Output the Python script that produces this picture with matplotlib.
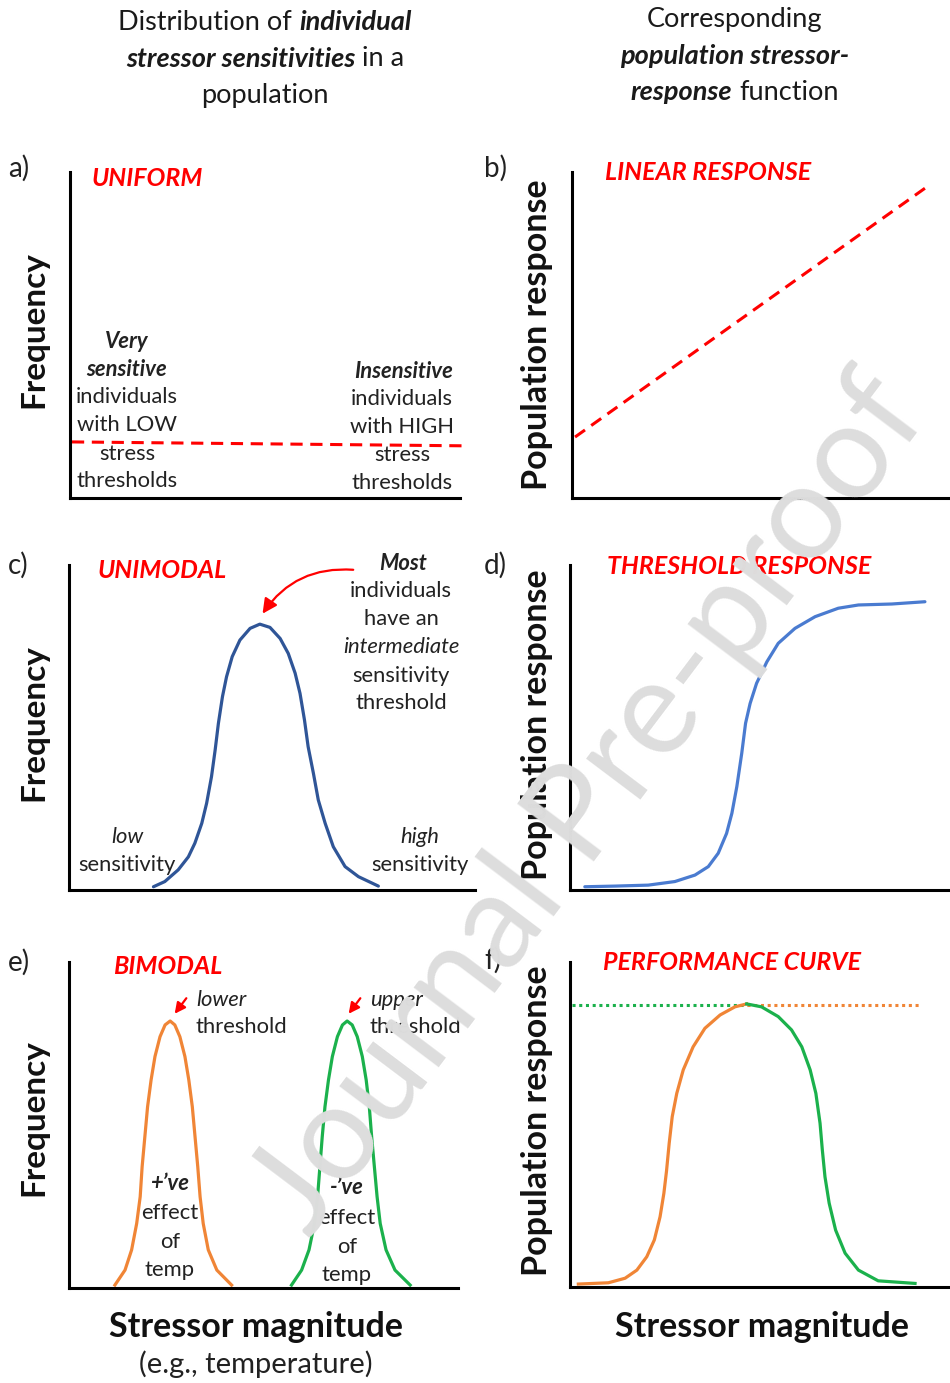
import matplotlib
matplotlib.use("Agg")
import matplotlib.pyplot as plt
from matplotlib.patches import FancyArrowPatch
from matplotlib.transforms import Affine2D

FONT = ["Lato", "DejaVu Sans"]
plt.rcParams["font.family"] = FONT

W, H = 950, 1383

# ---- data (axes units 0-100) ----
uniform_x = [0.5, 101.5]
uniform_y = [17.2, 16.0]

linear_x = [0.8, 94.2]
linear_y = [18.7, 95.7]

unimodal_x = [20.8, 23.6, 26.9, 29.4, 31.0, 32.7, 33.9, 35.1, 36.0, 36.8, 37.8, 38.8, 40.2, 42.1, 44.6,
              47.0, 49.5, 52.0, 54.0, 55.7, 56.9, 58.0, 58.9, 60.2, 61.4, 63.1, 65.1, 68.0, 71.3, 76.2]
unimodal_y = [1.0, 2.6, 6.2, 10.2, 14.4, 20.5, 26.7, 34.9, 43.1, 51.3, 59.5, 65.6, 71.8, 76.9, 80.5,
              81.8, 80.8, 77.4, 72.8, 66.7, 60.5, 52.3, 44.1, 35.9, 27.7, 20.5, 13.3, 7.2, 4.1, 1.2]

threshold_x = [3.9, 11.8, 20.6, 27.6, 32.9, 36.4, 39.0, 41.2, 42.6, 43.9, 45.2, 46.2, 47.4, 49.1, 51.8,
               54.8, 59.2, 64.5, 70.6, 75.9, 84.7, 93.4]
threshold_y = [1.0, 1.2, 1.5, 2.6, 4.6, 7.2, 11.3, 17.4, 23.6, 31.8, 42.1, 51.3, 57.4, 63.6, 70.2,
               75.9, 80.5, 84.1, 86.7, 87.7, 88.0, 88.7]

bimodal_low_x = [11.8, 14.4, 16.1, 17.4, 18.3, 18.8, 19.5, 20.2, 21.1, 22.1, 23.4, 24.7, 26.0,
                 27.2, 28.5, 29.8, 30.8, 31.7, 32.4, 33.1, 33.7, 34.5, 35.8, 38.0, 41.8]
bimodal_high_x = [57.2, 59.8, 61.7, 63.1, 63.9, 64.5, 65.1, 65.8, 66.7, 67.7, 69.0, 70.3, 71.5,
                  72.8, 74.1, 75.4, 76.4, 77.2, 77.8, 78.5, 79.2, 80.0, 81.5, 83.8, 87.7]
bimodal_y = [0.9, 5.5, 11.7, 19.8, 28.0, 37.2, 46.4, 55.6, 63.8, 71.0, 77.1, 80.7, 81.9,
             80.7, 77.1, 71.0, 63.8, 55.6, 46.4, 37.2, 28.0, 19.8, 11.7, 5.5, 0.9]

perf_rise_x = [2.2, 10.1, 14.5, 17.6, 20.2, 22.2, 23.7, 24.7, 25.4, 26.1, 26.9, 28.1, 29.8, 32.4,
               35.5, 39.5, 43.4, 46.5]
perf_rise_y = [0.9, 1.3, 2.7, 5.2, 9.3, 14.5, 21.6, 28.8, 35.7, 44.2, 52.4, 59.6, 66.8, 73.9,
               79.6, 83.7, 86.2, 87.1]
perf_fall_x = [46.5, 50.4, 54.8, 58.3, 61.0, 63.2, 64.7, 65.8, 66.4, 67.1, 68.2, 69.9, 72.4, 75.9,
               81.1, 90.8]
perf_fall_y = [87.1, 86.2, 83.2, 79.1, 73.9, 66.8, 59.6, 50.4, 42.2, 33.9, 25.8, 17.5, 10.4, 5.2,
               1.9, 1.1]
optimum_y = 86.8
optimum_left = [0.5, 46.5]
optimum_right = [46.5, 92.1]

RED = "#ff0000"
ORANGE = "#f08536"
GREEN = "#1bb14c"
DARK_BLUE = "#2f5597"
BLUE = "#4a7bd0"

fig = plt.figure(figsize=(W / 100, H / 100), dpi=100)
pix = Affine2D().scale(1.0 / W, -1.0 / H).translate(0, 1) + fig.transFigure


def panel(x0, y0, x1, y1):
    """axes whose left/bottom spines sit on the given pixel box"""
    ax = fig.add_axes([x0 / W, 1 - y1 / H, (x1 - x0) / W, (y1 - y0) / H])
    ax.set_xlim(0, 100)
    ax.set_ylim(0, 100)
    for s in ["top", "right"]:
        ax.spines[s].set_visible(False)
    for s in ["left", "bottom"]:
        ax.spines[s].set_linewidth(2.2)
        ax.spines[s].set_color("black")
    ax.set_xticks([])
    ax.set_yticks([])
    ax.patch.set_alpha(0)
    return ax


def txt(x, y, s, size=14, weight="normal", style="normal", color="#222222", ha="center", **kw):
    return fig.text(x, y, s, transform=pix, fontsize=size, fontweight=weight,
                    fontstyle=style, color=color, ha=ha, va="center", **kw)


def rich(cx, y, parts, size):
    """one centred line made of (text, weight, style) pieces"""
    fig.canvas.draw()
    r = fig.canvas.get_renderer()
    a = txt(0, y, "a a", size)
    b = txt(0, y, "aa", size)
    gap = a.get_window_extent(r).width - b.get_window_extent(r).width
    a.remove()
    b.remove()
    items = []
    for s, w, st in parts:
        t = txt(0, y, s, size, weight=w, style=st, color="#1a1a1a", ha="left")
        items.append((t, t.get_window_extent(r).width))
    total = sum(wd for _, wd in items) + gap * (len(items) - 1)
    x = cx - total / 2
    for t, wd in items:
        t.set_position((x, y))
        x += wd + gap


# ---- panels ----
ax_a = panel(70, 172, 460, 498)
ax_a.plot(uniform_x, uniform_y, color=RED, lw=2.2, ls=(0, (4, 2.5)), clip_on=False)

ax_b = panel(572, 172, 950, 498)
ax_b.plot(linear_x, linear_y, color=RED, lw=2.2, ls=(0, (4, 2.5)), clip_on=False)

ax_c = panel(69, 565, 475, 890)
ax_c.plot(unimodal_x, unimodal_y, color=DARK_BLUE, lw=2.3, solid_capstyle="round", solid_joinstyle="round")

ax_d = panel(570, 565, 950, 890)
ax_d.plot(threshold_x, threshold_y, color=BLUE, lw=2.3, solid_capstyle="round", solid_joinstyle="round")

ax_e = panel(69, 962, 458, 1288)
ax_e.plot(bimodal_low_x, bimodal_y, color=ORANGE, lw=2.3, solid_joinstyle="round")
ax_e.plot(bimodal_high_x, bimodal_y, color=GREEN, lw=2.3, solid_joinstyle="round")

ax_f = panel(570, 962, 950, 1287)
ax_f.plot(optimum_left, [optimum_y] * 2, color=GREEN, lw=2.2, ls=(0, (1, 1.2)))
ax_f.plot(optimum_right, [optimum_y] * 2, color=ORANGE, lw=2.2, ls=(0, (1, 1.2)))
ax_f.plot(perf_rise_x, perf_rise_y, color=ORANGE, lw=2.3, solid_joinstyle="round")
ax_f.plot(perf_fall_x, perf_fall_y, color=GREEN, lw=2.3, solid_joinstyle="round")

# ---- column headers ----
HS = 19.5
rich(265, 22, [("Distribution of", "normal", "normal"), ("individual", "bold", "italic")], HS)
rich(265, 59, [("stressor sensitivities", "bold", "italic"), ("in a", "normal", "normal")], HS)
rich(265, 96, [("population", "normal", "normal")], HS)
rich(735, 20, [("Corresponding", "normal", "normal")], HS)
rich(735, 56, [("population stressor-", "bold", "italic")], HS)
rich(735, 92, [("response", "bold", "italic"), ("function", "normal", "normal")], HS)

# ---- panel letters ----
for lab, x, y in [("a)", 8, 168), ("b)", 484, 168), ("c)", 8, 565), ("d)", 484, 565),
                  ("e)", 8, 962), ("f)", 484, 960)]:
    txt(x, y, lab, 20, ha="left")

# ---- red titles ----
for lab, x, y in [("UNIFORM", 92, 178), ("LINEAR RESPONSE", 605, 173), ("UNIMODAL", 98, 570),
                  ("THRESHOLD RESPONSE", 607, 566), ("BIMODAL", 113, 966),
                  ("PERFORMANCE CURVE", 603, 962)]:
    txt(x, y, lab, 18, weight="bold", style="italic", color=RED, ha="left")

# ---- axis labels ----
for y in [330, 723, 1118]:
    txt(34, y, "Frequency", 24, weight="bold", rotation=90, color="#111111")
for y in [335, 725, 1121]:
    txt(537, y, "Population response", 24.5, weight="bold", rotation=90, color="#111111")
txt(256, 1327, "Stressor magnitude", 24.5, weight="bold", color="#111111")
txt(256, 1364, "(e.g., temperature)", 21, color="#222222")
txt(762, 1327, "Stressor magnitude", 24.5, weight="bold", color="#111111")

# ---- panel a notes ----
fs = 15.8
txt(127, 341, "Very", fs, weight="bold", style="italic")
txt(127, 369, "sensitive", fs, weight="bold", style="italic")
for s, y in [("individuals", 397), ("with LOW", 425), ("stress", 454), ("thresholds", 481)]:
    txt(127, y, s, fs)
txt(404, 371, "Insensitive", fs, weight="bold", style="italic")
for s, y in [("individuals", 399), ("with HIGH", 427), ("stress", 455), ("thresholds", 483)]:
    txt(402, y, s, fs)

# ---- panel c notes ----
txt(403, 563, "Most", fs, weight="bold", style="italic")
txt(401, 591, "individuals", fs)
txt(401, 619, "have an", fs)
txt(401, 647, "intermediate", fs, style="italic")
txt(401, 676, "sensitivity", fs)
txt(401, 703, "threshold", fs)
txt(127, 837, "low", fs, style="italic")
txt(127, 865, "sensitivity", fs)
txt(420, 837, "high", fs, style="italic")
txt(420, 865, "sensitivity", fs)
fig.add_artist(FancyArrowPatch((356, 570), (261, 616), transform=pix,
                               connectionstyle="arc3,rad=0.3", arrowstyle="-|>",
                               mutation_scale=22, color=RED, lw=1.6))

# ---- panel e notes ----
txt(196, 1000, "lower", fs, style="italic", ha="left")
txt(196, 1027, "threshold", fs, ha="left")
txt(370, 1000, "upper", fs, style="italic", ha="left")
txt(370, 1027, "threshold", fs, ha="left")
for a, b in [((188, 996), (173, 1016)), ((362, 996), (347, 1016))]:
    fig.add_artist(FancyArrowPatch(a, b, transform=pix, arrowstyle="-|>",
                                   mutation_scale=16, color=RED, lw=1.6))
txt(170, 1183, "+\u2019ve", fs, weight="bold", style="italic")
for s, y in [("effect", 1213), ("of", 1242), ("temp", 1270)]:
    txt(170, y, s, fs)
txt(347, 1188, "-\u2019ve", fs, weight="bold", style="italic")
for s, y in [("effect", 1218), ("of", 1247), ("temp", 1275)]:
    txt(347, y, s, fs)

# ---- watermark ----
txt(590, 805, "Journal Pre-proof", 96, color="#dddddd", rotation=53, zorder=10,
    rotation_mode="anchor")

fig.savefig("out.png", dpi=100)
